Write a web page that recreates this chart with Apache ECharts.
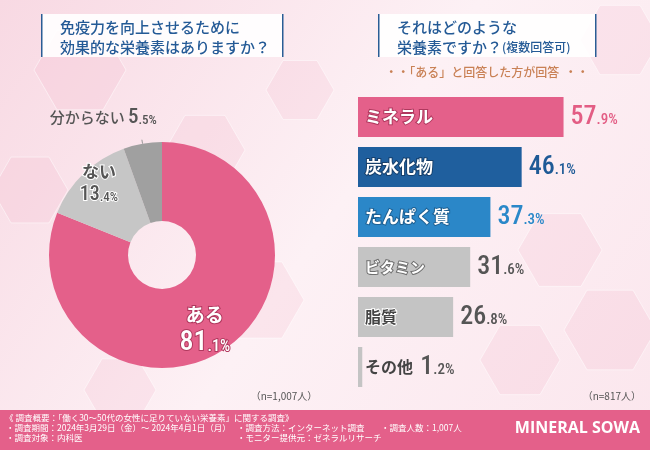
<!DOCTYPE html>
<html>
<head>
<meta charset="utf-8">
<script src="https://cdn.jsdelivr.net/npm/echarts@6/dist/echarts.min.js"></script>
<style>
html, body { margin: 0; padding: 0; }
#main { width: 650px; height: 450px; }
</style>
</head>
<body>
<div id="main"></div>
<script>
// 円グラフ
var pieNames = ['ある', 'ない', '分からない'];
var pieValues = [81.1, 13.4, 5.5];
var pieColors = ['#e4608a', '#c6c6c6', '#a0a0a0'];

// 棒グラフ
var barNames = ['ミネラル', '炭水化物', 'たんぱく質', 'ビタミン', '脂質', 'その他'];
var barValues = [57.9, 46.1, 37.3, 31.6, 26.8, 1.2];
var barColors = ['#e4608a', '#1f5f9e', '#2b87c8', '#c4c4c4', '#c4c4c4', '#c4c4c4'];
var valueColors = ['#e35d84', '#1e5a96', '#2a88c9', '#555555', '#555555', '#555555'];

var JP = "'Noto Sans CJK JP', sans-serif";
var NUM = "'Roboto Condensed', 'Liberation Sans Narrow', 'Roboto', sans-serif";

function splitNum(v) {
    var s = v.toFixed(1).split('.');
    return [s[0], '.' + s[1] + '%'];
}

function hex(cx, cy, r) {
    var pts = [];
    for (var i = 0; i < 6; i++) {
        var a = Math.PI / 3 * i;
        pts.push([cx + r * Math.cos(a), cy + r * Math.sin(a)]);
    }
    return pts;
}

var myChart = echarts.init(document.getElementById('main'));

var barData = [];
var barRich = {};
var nameRich = {};
for (var i = 0; i < barValues.length; i++) {
    var item = { value: barValues[i], itemStyle: { color: barColors[i] } };
    if (barNames[i] == 'その他') {
        item.label = { distance: 58 };
    }
    barData.push(item);
    barRich['b' + i] = { fontFamily: NUM, fontSize: 26, fontWeight: 500, color: valueColors[i] };
    barRich['s' + i] = { fontFamily: NUM, fontSize: 15, fontWeight: 500, color: valueColors[i], padding: [7, 0, 0, 0] };
}
nameRich.c0 = { color: '#fff', fontSize: 17, fontWeight: 'bold', fontFamily: JP, textBorderColor: '#b0385e', textBorderWidth: 2 };
nameRich.c1 = { color: '#fff', fontSize: 17, fontWeight: 'bold', fontFamily: JP, textBorderColor: '#163f6b', textBorderWidth: 2 };
nameRich.c2 = { color: '#fff', fontSize: 17, fontWeight: 'bold', fontFamily: JP, textBorderColor: '#1d5f91', textBorderWidth: 2 };
nameRich.c3 = { color: '#fff', fontSize: 15, fontWeight: 'bold', fontFamily: JP, textBorderColor: '#6e6e6e', textBorderWidth: 2 };
nameRich.c4 = { color: '#444', fontSize: 16, fontWeight: 'bold', fontFamily: JP, textBorderColor: '#fff', textBorderWidth: 2 };
nameRich.c5 = { color: '#444', fontSize: 16, fontWeight: 'bold', fontFamily: JP };

var pieData = [];
for (var j = 0; j < pieValues.length; j++) {
    pieData.push({ name: pieNames[j], value: pieValues[j], itemStyle: { color: pieColors[j] } });
}
pieData[0].label = { position: 'inside' };
pieData[1].label = { position: 'inside' };
pieData[2].label = { position: 'outside' };

var hexes = [
    [80, 70, 46], [205, 150, 40], [30, 190, 38], [260, 300, 44], [560, 250, 42],
    [610, 330, 46], [520, 360, 40], [120, 390, 36], [300, 90, 34], [620, 40, 40]
];
var graphics = [
    { type: 'rect', z: -100, silent: true, shape: { x: 0, y: 0, width: 650, height: 450 },
      style: { fill: new echarts.graphic.LinearGradient(0, 0, 1, 1, [
          { offset: 0, color: '#f8d9e3' }, { offset: 0.5, color: '#fdf1f5' }, { offset: 1, color: '#fbe6ed' }]) } }
];
for (var h = 0; h < hexes.length; h++) {
    graphics.push({ type: 'polygon', z: -90, silent: true, shape: { points: hex(hexes[h][0], hexes[h][1], hexes[h][2]) },
        style: { fill: 'rgba(240,170,195,0.16)', stroke: 'rgba(255,255,255,0.5)', lineWidth: 1 } });
}
graphics = graphics.concat([
    // 左タイトル
    { type: 'rect', shape: { x: 42, y: 14, width: 241, height: 43 }, style: { fill: 'rgba(255,255,255,0.9)' } },
    { type: 'rect', shape: { x: 41, y: 14, width: 1.5, height: 43 }, style: { fill: '#2a5d95' } },
    { type: 'rect', shape: { x: 282, y: 14, width: 1.5, height: 43 }, style: { fill: '#2a5d95' } },
    { type: 'text', x: 60, y: 27, style: { text: '免疫力を向上させるために', fill: '#245a96', font: '500 15px ' + JP, textVerticalAlign: 'middle' } },
    { type: 'text', x: 60, y: 47, style: { text: '効果的な栄養素はありますか？', fill: '#245a96', font: '500 15px ' + JP, textVerticalAlign: 'middle' } },
    // 右タイトル
    { type: 'rect', shape: { x: 378, y: 14, width: 218, height: 43 }, style: { fill: 'rgba(255,255,255,0.9)' } },
    { type: 'rect', shape: { x: 378, y: 14, width: 1.5, height: 43 }, style: { fill: '#2a5d95' } },
    { type: 'rect', shape: { x: 595, y: 14, width: 1.5, height: 43 }, style: { fill: '#2a5d95' } },
    { type: 'text', x: 397, y: 27, style: { text: 'それはどのような', fill: '#245a96', font: '500 15px ' + JP, textVerticalAlign: 'middle' } },
    { type: 'text', x: 397, y: 47, style: { text: '{a|栄養素ですか？}{b|(複数回答可)}', textVerticalAlign: 'middle',
        rich: { a: { fill: '#245a96', color: '#245a96', fontSize: 15, fontWeight: 500, fontFamily: JP },
                b: { fill: '#245a96', color: '#245a96', fontSize: 12, fontWeight: 500, fontFamily: JP } } } },
    { type: 'text', x: 487, y: 72, style: { text: '・・「ある」と回答した方が回答  ・・', fill: '#c98155', font: '500 12px ' + JP, textAlign: 'center', textVerticalAlign: 'middle' } },
    // n数
    { type: 'text', x: 284, y: 396, style: { text: '（n=1,007人）', fill: '#555', font: '10px ' + JP, textAlign: 'center', textVerticalAlign: 'middle' } },
    { type: 'text', x: 641, y: 396, style: { text: '（n=817人）', fill: '#555', font: '10px ' + JP, textAlign: 'right', textVerticalAlign: 'middle' } },
    // フッター
    { type: 'rect', shape: { x: 0, y: 410, width: 650, height: 40 }, style: { fill: '#e4608a' } },
    { type: 'text', x: 5, y: 418, style: { text: '《 調査概要：「働く30〜50代の女性に足りていない栄養素」に関する調査》', fill: '#fff', font: '8.5px ' + JP, textVerticalAlign: 'middle' } },
    { type: 'text', x: 6, y: 428, style: { text: '・調査期間：2024年3月29日（金）〜 2024年4月1日（月）', fill: '#fff', font: '8.5px ' + JP, textVerticalAlign: 'middle' } },
    { type: 'text', x: 6, y: 438, style: { text: '・調査対象：内科医', fill: '#fff', font: '8.5px ' + JP, textVerticalAlign: 'middle' } },
    { type: 'text', x: 237, y: 428, style: { text: '・調査方法：インターネット調査', fill: '#fff', font: '8.5px ' + JP, textVerticalAlign: 'middle' } },
    { type: 'text', x: 237, y: 438, style: { text: '・モニター提供元：ゼネラルリサーチ', fill: '#fff', font: '8.5px ' + JP, textVerticalAlign: 'middle' } },
    { type: 'text', x: 381, y: 428, style: { text: '・調査人数：1,007人', fill: '#fff', font: '8.5px ' + JP, textVerticalAlign: 'middle' } },
    { type: 'text', x: 640, y: 428, style: { text: 'MINERAL SOWA', fill: '#fff', font: 'bold 16px ' + "'Open Sans', 'Noto Sans', sans-serif", textAlign: 'right', textVerticalAlign: 'middle' } }
]);

var option = {
    animation: false,
    graphic: graphics,
    grid: { left: 358, top: 92, width: 284, height: 300 },
    xAxis: { type: 'value', min: 0, max: 80, show: false },
    yAxis: {
        type: 'category',
        data: barNames,
        inverse: true,
        axisLine: { show: false },
        axisTick: { show: false },
        axisLabel: {
            inside: true,
            margin: 7,
            formatter: function (value, idx) {
                return '{c' + idx + '|' + value + '}';
            },
            rich: nameRich
        },
        z: 10
    },
    series: [
        {
            type: 'bar',
            data: barData,
            barWidth: 40,
            label: {
                show: true,
                position: 'right',
                distance: 7,
                formatter: function (p) {
                    var n = splitNum(p.value);
                    return '{b' + p.dataIndex + '|' + n[0] + '}{s' + p.dataIndex + '|' + n[1] + '}';
                },
                rich: barRich
            }
        },
        {
            type: 'pie',
            center: [162, 255],
            radius: [34, 113],
            startAngle: 90,
            data: pieData,
            label: {
                show: true,
                formatter: function (p) {
                    var n = splitNum(p.value);
                    if (p.dataIndex == 0) return '{n0|' + p.name + '}\n{b0|' + n[0] + '}{s0|' + n[1] + '}';
                    if (p.dataIndex == 1) return '{n1|' + p.name + '}\n{b1|' + n[0] + '}{s1|' + n[1] + '}';
                    return '{n2|' + p.name + '} {b2|' + n[0] + '}{s2|' + n[1] + '}';
                },
                rich: {
                    n0: { color: '#fff', fontSize: 19, fontWeight: 'bold', fontFamily: JP, textBorderColor: '#b0385e', textBorderWidth: 2, align: 'center', lineHeight: 30 },
                    b0: { color: '#fff', fontSize: 28, fontWeight: 500, fontFamily: NUM, textBorderColor: '#b0385e', textBorderWidth: 2 },
                    s0: { color: '#fff', fontSize: 16, fontWeight: 500, fontFamily: NUM, textBorderColor: '#b0385e', textBorderWidth: 2, padding: [8, 0, 0, 0] },
                    n1: { color: '#555', fontSize: 17, fontWeight: 'bold', fontFamily: JP, textBorderColor: '#fff', textBorderWidth: 2, align: 'center', lineHeight: 26 },
                    b1: { color: '#555', fontSize: 20, fontWeight: 500, fontFamily: NUM, textBorderColor: '#fff', textBorderWidth: 2 },
                    s1: { color: '#555', fontSize: 13, fontWeight: 500, fontFamily: NUM, textBorderColor: '#fff', textBorderWidth: 2, padding: [5, 0, 0, 0] },
                    n2: { color: '#555', fontSize: 15, fontWeight: 500, fontFamily: JP },
                    b2: { color: '#555', fontSize: 21, fontWeight: 500, fontFamily: NUM },
                    s2: { color: '#555', fontSize: 13, fontWeight: 500, fontFamily: NUM, padding: [6, 0, 0, 0] }
                }
            },
            labelLine: { show: true, length: 4, length2: 0, lineStyle: { color: '#999', width: 1 } },
            labelLayout: function (params) {
                if (params.dataIndex == 0) return { dy: 10 };
                if (params.dataIndex == 1) return { dx: -10, dy: -18 };
                return { dx: 20, dy: -22 };
            }
        }
    ]
};
myChart.setOption(option);
</script>
</body>
</html>
